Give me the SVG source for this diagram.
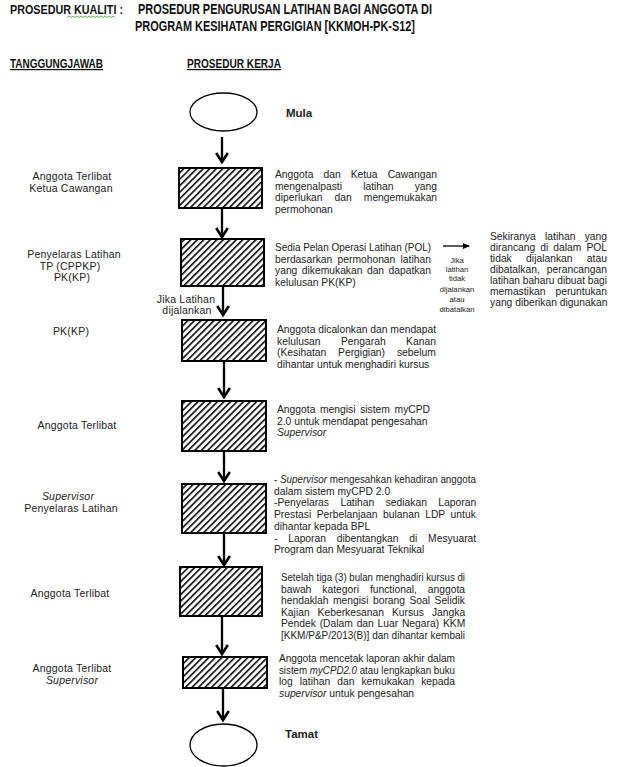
<svg xmlns="http://www.w3.org/2000/svg" width="620" height="767" viewBox="0 0 620 767">
<style>
.h{font-family:'Liberation Sans Narrow','Arial Narrow','Liberation Sans',Arial,sans-serif;font-weight:bold;fill:#111}
.t{font-family:'Liberation Sans',Arial,sans-serif;font-size:10.5px;fill:#222;letter-spacing:0.2px}
.r{font-family:'Liberation Sans',Arial,sans-serif;font-size:10.3px;fill:#222}
.l{text-anchor:middle}
.i{font-style:italic}
.s{font-family:'Liberation Sans Narrow','Liberation Sans',Arial,sans-serif;font-size:7.7px;fill:#222;text-anchor:middle}
.b{font-family:'Liberation Sans',Arial,sans-serif;font-size:11.5px;font-weight:bold;fill:#222}
.box{fill:url(#hatch);stroke:#000;stroke-width:2}
.term{fill:#fff;stroke:#000;stroke-width:1.3}
.c{stroke:#000;stroke-width:2.3;fill:none;marker-end:url(#chev)}
.c2{stroke:#000;stroke-width:1.3;fill:none;marker-end:url(#tri)}
</style>
<defs>
<pattern id="hatch" patternUnits="userSpaceOnUse" width="4.6" height="4.6" patternTransform="rotate(45)">
<rect width="4.6" height="4.6" fill="#fff"/>
<line x1="0" y1="0" x2="0" y2="4.6" stroke="#000" stroke-width="3.1"/>
</pattern>
<marker id="chev" markerUnits="userSpaceOnUse" markerWidth="14" markerHeight="14" refX="0" refY="0" orient="auto" overflow="visible">
<path d="M-9,-5.8 L0,0 L-9,5.8" fill="none" stroke="#000" stroke-width="2.6" stroke-linejoin="miter"/>
</marker>
<marker id="tri" markerUnits="userSpaceOnUse" markerWidth="8" markerHeight="8" refX="0" refY="0" orient="auto" overflow="visible">
<path d="M-6,-3 L1,0 L-6,3 Z" fill="#000"/>
</marker>
</defs>

<g id="header">
<text class="h" x="10" y="14" font-size="13" textLength="113" lengthAdjust="spacingAndGlyphs">PROSEDUR KUALITI :</text>
<path d="M67,17.5 l2,-1.5 l2,1.5 l2,-1.5 l2,1.5 l2,-1.5 l2,1.5 l2,-1.5 l2,1.5 l2,-1.5 l2,1.5 l2,-1.5 l2,1.5 l2,-1.5 l2,1.5 l2,-1.5 l2,1.5 l2,-1.5 l2,1.5 l2,-1.5 l2,1.5 l2,-1.5 l2,1.5 l2,-1.5 l2,1.5" fill="none" stroke="#3a9a3a" stroke-width="0.8"/>
<text class="h" x="138" y="14" font-size="14" textLength="294" lengthAdjust="spacingAndGlyphs">PROSEDUR PENGURUSAN LATIHAN BAGI ANGGOTA DI</text>
<text class="h" x="135" y="31" font-size="14" textLength="280" lengthAdjust="spacingAndGlyphs">PROGRAM KESIHATAN PERGIGIAN [KKMOH-PK-S12]</text>
<text class="h" x="10" y="68" font-size="12" text-decoration="underline" textLength="93" lengthAdjust="spacingAndGlyphs">TANGGUNGJAWAB</text>
<text class="h" x="187" y="68" font-size="12" text-decoration="underline" textLength="94" lengthAdjust="spacingAndGlyphs">PROSEDUR KERJA</text>
</g>

<g id="resp">
<text class="t l" x="72" y="180">Anggota Terlibat</text>
<text class="t l" x="71" y="191.5">Ketua Cawangan</text>
<text class="t l" x="74" y="258">Penyelaras Latihan</text>
<text class="t l" x="70" y="269.5">TP (CPPKP)</text>
<text class="t l" x="72" y="281">PK(KP)</text>
<text class="t l" x="71" y="335">PK(KP)</text>
<text class="t l" x="77" y="429">Anggota Terlibat</text>
<text class="t l i" x="68" y="500">Supervisor</text>
<text class="t l" x="71" y="511.5">Penyelaras Latihan</text>
<text class="t l" x="70" y="597">Anggota Terlibat</text>
<text class="t l" x="72" y="672">Anggota Terlibat</text>
<text class="t l i" x="72" y="683.5">Supervisor</text>
</g>

<g id="connectors">
<line class="c" x1="222" y1="137" x2="222" y2="162"/>
<line class="c" x1="222" y1="208" x2="222" y2="237"/>
<line class="c" x1="223" y1="286" x2="223" y2="315"/>
<line class="c" x1="224" y1="361" x2="224" y2="397"/>
<line class="c" x1="224" y1="452" x2="224" y2="481"/>
<line class="c" x1="224" y1="533" x2="224" y2="565"/>
<line class="c" x1="222" y1="616" x2="222" y2="654"/>
<line class="c" x1="223" y1="688" x2="223" y2="720"/>
<line class="c2" x1="443" y1="246" x2="469" y2="246"/>
<text class="t l" x="186" y="302.5">Jika Latihan</text>
<text class="t l" x="187" y="314">dijalankan</text>
<text class="s" x="457" y="262.5">Jika</text>
<text class="s" x="457" y="271.5">latihan</text>
<text class="s" x="457" y="281">tidak</text>
<text class="s" x="457" y="292">dijalankan</text>
<text class="s" x="457" y="302">atau</text>
<text class="s" x="457" y="312">dibatalkan</text>
</g>

<g id="mula">
<ellipse class="term" cx="223.5" cy="112" rx="33.5" ry="19"/>
<text class="b" x="286" y="117">Mula</text>
</g>

<g id="step1">
<rect class="box" x="179" y="168" width="83" height="40"/>
<text class="r" x="275" y="178" word-spacing="7.2">Anggota dan Ketua Cawangan</text>
<text class="r" x="275" y="189.5" word-spacing="18.3">mengenalpasti latihan yang</text>
<text class="r" x="275" y="201" word-spacing="9.2">diperlukan dan mengemukakan</text>
<text class="r" x="275" y="212.5">permohonan</text>
</g>

<g id="step2">
<rect class="box" x="181" y="239" width="83" height="47"/>
<text class="r" x="275" y="251" textLength="156" lengthAdjust="spacingAndGlyphs">Sedia Pelan Operasi Latihan (POL)</text>
<text class="r" x="275" y="262.5" word-spacing="2.4">berdasarkan permohonan latihan</text>
<text class="r" x="275" y="274" word-spacing="1.6">yang dikemukakan dan dapatkan</text>
<text class="r" x="275" y="285.5">kelulusan PK(KP)</text>
</g>

<g id="alt">
<text class="r" x="490" y="239.5" word-spacing="6.4">Sekiranya latihan yang</text>
<text class="r" x="490" y="250.5" word-spacing="2.2">dirancang di dalam POL</text>
<text class="r" x="490" y="261.5" word-spacing="11.5">tidak dijalankan atau</text>
<text class="r" x="490" y="272.5" word-spacing="4.2">dibatalkan, perancangan</text>
<text class="r" x="490" y="283.5" textLength="117" lengthAdjust="spacingAndGlyphs">latihan baharu dibuat bagi</text>
<text class="r" x="490" y="294.5" word-spacing="7.1">memastikan peruntukan</text>
<text class="r" x="490" y="305.5">yang diberikan digunakan</text>
</g>

<g id="step3">
<rect class="box" x="182" y="320" width="84" height="41"/>
<text class="r" x="277" y="333">Anggota dicalonkan dan mendapat</text>
<text class="r" x="277" y="344.5" word-spacing="17.6">kelulusan Pengarah Kanan</text>
<text class="r" x="277" y="356" word-spacing="9">(Kesihatan Pergigian) sebelum</text>
<text class="r" x="277" y="367.5">dihantar untuk menghadiri kursus</text>
</g>

<g id="step4">
<rect class="box" x="182" y="401" width="84" height="50"/>
<text class="r" x="277" y="413" word-spacing="1.8">Anggota mengisi sistem myCPD</text>
<text class="r" x="277" y="424.5">2.0 untuk mendapat pengesahan</text>
<text class="r i" x="277" y="436">Supervisor</text>
</g>

<g id="step5">
<rect class="box" x="182" y="484" width="84" height="49"/>
<text class="r" x="274" y="483" textLength="202" lengthAdjust="spacingAndGlyphs">- <tspan class="i">Supervisor</tspan> mengesahkan kehadiran anggota</text>
<text class="r" x="274" y="494.7">dalam sistem myCPD 2.0</text>
<text class="r" x="274" y="506.4" word-spacing="8.6">-Penyelaras Latihan sediakan Laporan</text>
<text class="r" x="274" y="518" word-spacing="2.7">Prestasi Perbelanjaan bulanan LDP untuk</text>
<text class="r" x="274" y="529.8">dihantar kepada BPL</text>
<text class="r" x="274" y="541.5" word-spacing="7.9">- Laporan dibentangkan di Mesyuarat</text>
<text class="r" x="274" y="553.2">Program dan Mesyuarat Teknikal</text>
</g>

<g id="step6">
<rect class="box" x="180" y="567" width="82" height="49"/>
<text class="r" x="281" y="581" textLength="184" lengthAdjust="spacingAndGlyphs">Setelah tiga (3) bulan menghadiri kursus di</text>
<text class="r" x="281" y="592.5" word-spacing="8.1">bawah kategori functional, anggota</text>
<text class="r" x="281" y="604" word-spacing="1.6">hendaklah mengisi borang Soal Selidik</text>
<text class="r" x="281" y="615.5" word-spacing="5.1">Kajian Keberkesanan Kursus Jangka</text>
<text class="r" x="281" y="627" word-spacing="0.9">Pendek (Dalam dan Luar Negara) KKM</text>
<text class="r" x="281" y="638.5" textLength="184" lengthAdjust="spacingAndGlyphs">[KKM/P&amp;P/2013(B)] dan dihantar kembali</text>
</g>

<g id="step7">
<rect class="box" x="183" y="657" width="84" height="31"/>
<text class="r" x="279" y="662" textLength="176" lengthAdjust="spacingAndGlyphs">Anggota mencetak laporan akhir dalam</text>
<text class="r" x="279" y="673.5" textLength="176" lengthAdjust="spacingAndGlyphs">sistem <tspan class="i">myCPD2.0</tspan> atau lengkapkan buku</text>
<text class="r" x="279" y="685" word-spacing="4.2">log latihan dan kemukakan kepada</text>
<text class="r" x="279" y="696.5"><tspan class="i">supervisor</tspan> untuk pengesahan</text>
</g>

<g id="tamat">
<ellipse class="term" cx="223.5" cy="745" rx="33.5" ry="21"/>
<text class="b" x="285" y="738">Tamat</text>
</g>
</svg>
